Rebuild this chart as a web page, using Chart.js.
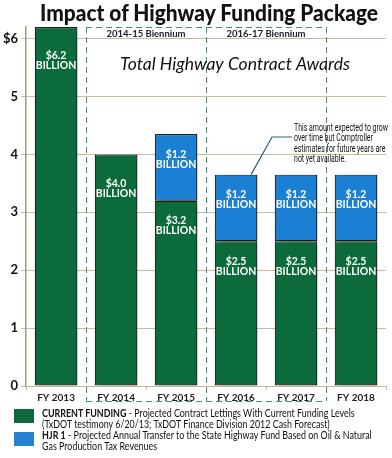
<!DOCTYPE html>
<html>
<head>
<meta charset="utf-8">
<script src="https://cdn.jsdelivr.net/npm/chart.js@4"></script>
<style>
body { margin: 0; background: #fff; }
#wrap { position: relative; width: 392px; height: 458px; font-family: Lato, sans-serif; color: #111; }
#title { position: absolute; left: 13px; top: -1px; width: 392px; text-align: center; white-space: nowrap; font-weight: 900; font-size: 22px; }
#title span { display: inline-block; transform-origin: center; }
.leg { position: absolute; left: 14px; width: 375px; font-size: 10.5px; line-height: 10.5px; }
.leg .sw { position: absolute; left: 0; top: 3px; width: 20px; height: 14px; }
.leg .txt { position: absolute; left: 28px; top: 2px; white-space: nowrap; transform-origin: left top; }
</style>
</head>
<body>
<div id="wrap">
  <canvas id="chart" width="392" height="458"></canvas>
  <div id="title"><span>Impact of Highway Funding Package</span></div>
  <div class="leg" style="top:406px">
    <span class="sw" style="background:#0b6b3a"></span>
    <div class="txt"><span id="legLine"><b>CURRENT FUNDING</b> - Projected Contract Lettings With Current Funding Levels</span><br>(TxDOT testimony 6/20/13; TxDOT Finance Division 2012 Cash Forecast)</div>
  </div>
  <div class="leg" style="top:428px">
    <span class="sw" style="background:#2a80d2; top:4px"></span>
    <div class="txt"><b>HJR 1</b> - Projected Annual Transfer to the State Highway Fund Based on Oil &amp; Natural<br>Gas Production Tax Revenues</div>
  </div>
</div>
<script>
// data (billions of dollars)
const years = ['FY 2013', 'FY 2014', 'FY 2015', 'FY 2016', 'FY 2017', 'FY 2018'];
const currentFunding = [6.2, 4.0, 3.2, 2.5, 2.5, 2.5];
const hjr1 = [null, null, 1.15, 1.15, 1.15, 1.15];
const currentLabels = ['$6.2', '$4.0', '$3.2', '$2.5', '$2.5', '$2.5'];
const hjr1Labels = [null, null, '$1.2', '$1.2', '$1.2', '$1.2'];
const yTicks = [0, 1, 2, 3, 4, 5, 6];

const bienniumLabels = ['2014-15 Biennium', '2016-17 Biennium'];
const bienniumFirst = [1, 3];
const bienniumLast = [2, 4];

const subtitle = 'Total Highway Contract Awards';
const noteLines = ['This amount expected to grow', 'over time but Comptroller', 'estimates for future years are', 'not yet available.'];
const noteBar = 3;

const GREEN = '#0b6b3a';
const BLUE = '#1b7fd3';

// squeeze title and legend text to the width of the original (narrow) typeface
const titleSpan = document.querySelector('#title span');
titleSpan.style.transform = 'scaleX(' + (338 / titleSpan.offsetWidth) + ')';
const legScale = 313 / document.getElementById('legLine').offsetWidth;
document.querySelectorAll('.leg .txt').forEach(el => { el.style.transform = 'scaleX(' + legScale + ')'; });

// text drawn into a fixed width
function fitText(ctx, text, x, y, width) {
    const w = ctx.measureText(text).width;
    ctx.save();
    ctx.translate(x, y);
    ctx.scale(width / w, 1);
    ctx.fillText(text, 0, 0);
    ctx.restore();
}

// dashed biennium boxes, bar shadows and bar labels
const extras = {
    id: 'extras',
    beforeDatasetsDraw(chart) {
        const ctx = chart.ctx;
        const x = chart.scales.x;
        const area = chart.chartArea;
        const mid = i => (x.getPixelForValue(i) + x.getPixelForValue(i + 1)) / 2;
        const bottom = area.bottom + 15;

        ctx.save();
        ctx.strokeStyle = '#3f9273';
        ctx.lineWidth = 1;
        ctx.setLineDash([6, 4]);
        const edges = [mid(bienniumFirst[0] - 1), mid(bienniumLast[0]), mid(bienniumLast[1])];
        ctx.beginPath();
        edges.forEach(e => { ctx.moveTo(Math.round(e) + 0.5, area.top); ctx.lineTo(Math.round(e) + 0.5, bottom); });
        ctx.moveTo(edges[0], area.top + 0.5);
        ctx.lineTo(edges[2], area.top + 0.5);
        ctx.moveTo(edges[0], bottom + 0.5);
        ctx.lineTo(edges[2], bottom + 0.5);
        ctx.stroke();
        ctx.setLineDash([]);

        ctx.fillStyle = '#222';
        ctx.font = 'bold 9.5px Lato';
        ctx.textAlign = 'center';
        ctx.textBaseline = 'middle';
        bienniumLabels.forEach((t, i) => {
            const c = (mid(bienniumFirst[i] - 1) + mid(bienniumLast[i])) / 2;
            ctx.fillText(t, c, area.top + 7);
        });
        ctx.restore();

        ctx.save();
        ctx.shadowColor = 'rgba(0,0,0,0.35)';
        ctx.shadowBlur = 6;
        ctx.shadowOffsetX = 5;
        ctx.shadowOffsetY = 1;
    },
    afterDatasetsDraw(chart) {
        const ctx = chart.ctx;
        ctx.restore();

        ctx.save();
        ctx.fillStyle = '#fff';
        ctx.font = 'bold 10.5px Lato';
        ctx.textAlign = 'center';
        ctx.textBaseline = 'middle';
        const texts = [currentLabels, hjr1Labels];
        chart.data.datasets.forEach((ds, d) => {
            chart.getDatasetMeta(d).data.forEach((bar, i) => {
                if (ds.data[i] == null) return;
                const single = hjr1[i] == null;
                const off = single ? 29 : 20;
                ctx.fillText(texts[d][i], bar.x, bar.y + off);
                ctx.fillText('BILLION', bar.x, bar.y + off + 10);
            });
        });
        ctx.restore();
    },
    afterDraw(chart) {
        const ctx = chart.ctx;
        const x = chart.scales.x;
        const y = chart.scales.y;

        ctx.save();
        ctx.fillStyle = '#111';
        ctx.font = 'italic 18px Lato';
        ctx.textAlign = 'left';
        ctx.textBaseline = 'middle';
        const cx = x.getPixelForValue(3) - 1;
        fitText(ctx, subtitle, cx - 115, y.getPixelForValue(5.55), 230);

        // callout to the FY 2016 blue bar
        const top = y.getPixelForValue(currentFunding[noteBar] + hjr1[noteBar]);
        const bx = x.getPixelForValue(noteBar) + 15;
        const tx = x.getPixelForValue(noteBar) + 58;
        const ty = y.getPixelForValue(4.3);
        ctx.strokeStyle = '#2d6079';
        ctx.lineWidth = 1.2;
        ctx.beginPath();
        ctx.moveTo(bx, top);
        ctx.lineTo(bx + 21, ty);
        ctx.lineTo(tx - 2, ty);
        ctx.stroke();

        ctx.font = '10px Roboto';
        const w0 = ctx.measureText(noteLines[0]).width;
        noteLines.forEach((l, i) => {
            const w = ctx.measureText(l).width * 94 / w0;
            fitText(ctx, l, tx, ty - 9 + i * 10.5, w);
        });
        ctx.restore();
    }
};

const ctx = document.getElementById('chart').getContext('2d');
const chart = new Chart(ctx, {
    type: 'bar',
    data: {
        labels: years,
        datasets: [{
            label: 'CURRENT FUNDING',
            data: currentFunding,
            backgroundColor: GREEN,
            borderColor: '#16261c',
            borderWidth: 1.2,
            borderSkipped: false,
            barPercentage: 0.71,
            categoryPercentage: 1.0
        }, {
            label: 'HJR 1',
            data: hjr1,
            backgroundColor: BLUE,
            borderColor: '#16261c',
            borderWidth: 1.2,
            borderSkipped: false,
            barPercentage: 0.71,
            categoryPercentage: 1.0
        }]
    },
    options: {
        responsive: false,
        animation: false,
        devicePixelRatio: 1,
        layout: { padding: { top: 27, right: 6, bottom: 52, left: 0 } },
        plugins: {
            legend: { display: false },
            tooltip: { enabled: false },
            title: { display: false }
        },
        scales: {
            x: {
                stacked: true,
                grid: { drawOnChartArea: false, offset: true, tickLength: 4, color: '#c9b99b' },
                border: { color: '#c9b99b' },
                ticks: { color: '#222', padding: 2, font: { family: 'Lato', weight: 'bold', size: 10 } }
            },
            y: {
                stacked: true,
                min: 0,
                max: 6.2,
                afterBuildTicks: scale => { scale.ticks = yTicks.map(v => ({ value: v })); },
                grid: { color: '#cbbb9d', lineWidth: 1, tickLength: 5 },
                border: { color: '#a8977a', width: 1.5 },
                ticks: {
                    color: '#111',
                    padding: 3,
                    font: { family: 'Lato', weight: 'bold', size: 13 },
                    callback: v => v === 6 ? '$6' : v
                }
            }
        }
    },
    plugins: [extras]
});
</script>
</body>
</html>
